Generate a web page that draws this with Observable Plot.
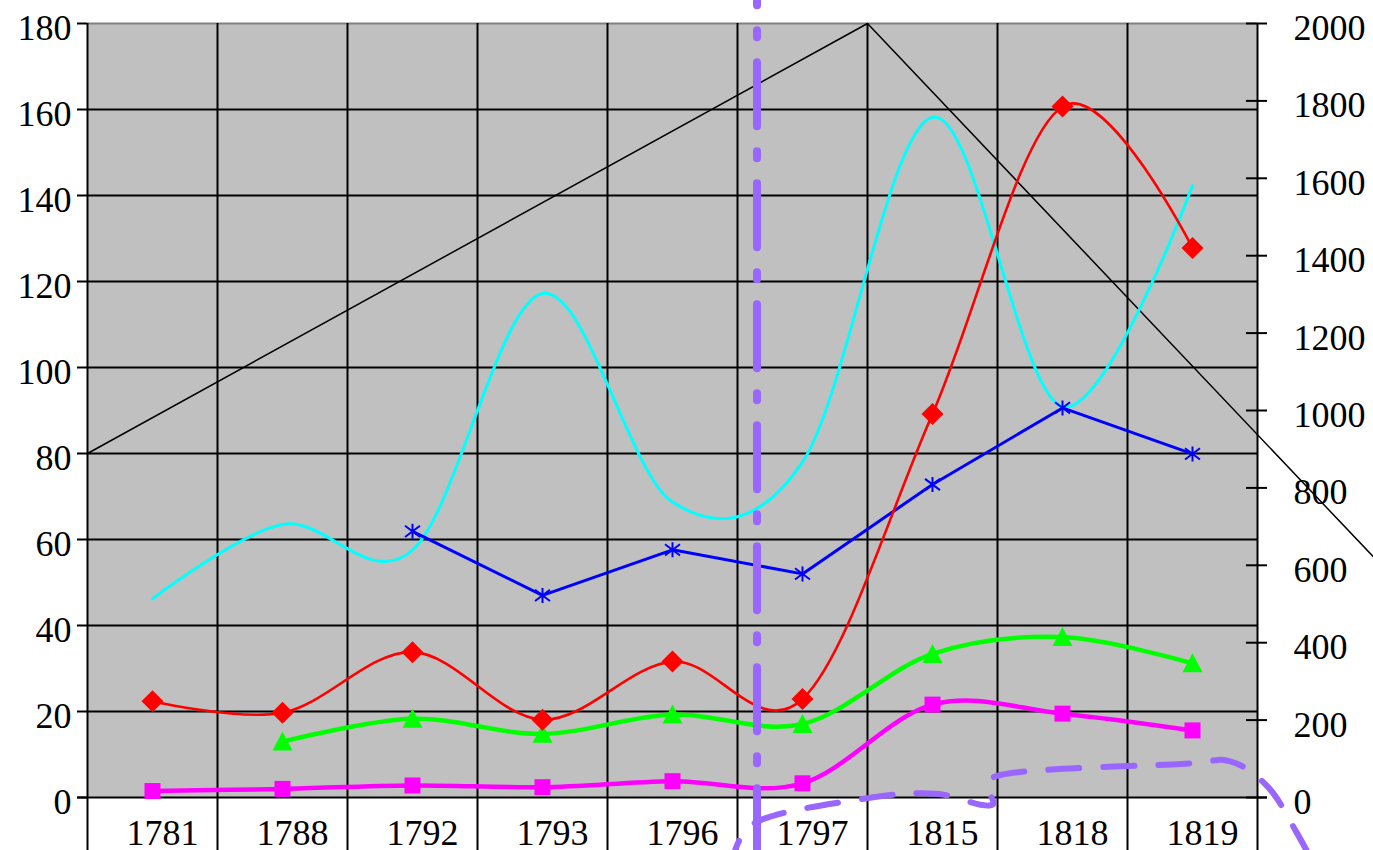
<!DOCTYPE html>
<html><head><meta charset="utf-8">
<script src="https://cdn.jsdelivr.net/npm/d3@7"></script>
<script src="https://cdn.jsdelivr.net/npm/@observablehq/plot@0.6"></script>
<style>html,body{margin:0;padding:0;background:#fff;overflow:hidden}</style>
</head><body><div id="chart"></div>
<script>
// ---- data ----
const years = ["1781","1788","1792","1793","1796","1797","1815","1818","1819"];
const redSeries     = [22.4, 19.7, 33.8, 18.1, 31.6, 22.9, 89.2, 160.7, 127.8];
const blueSeries    = [null, null, 61.9, 47.0, 57.6, 52.0, 72.8, 90.6, 79.9];
const greenSeries   = [null, 13.0, 18.3, 14.8, 19.3, 17.1, 33.4, 37.3, 31.2];
const magentaSeries = [1.5, 2.0, 2.8, 2.4, 3.8, 3.3, 21.6, 19.5, 15.6];
const cyanSeries    = [46.2, 63.5, 57.5, 117.2, 68.7, 78.0, 158.2, 90.9, 142.3];
// black straight line (category-index units, left-axis values)
const blackX = [-0.5, 5.5, 9.5];
const blackY = [80, 180, 52.5];
// purple dash-dot vertical line
const purpleVX = [4.65, 4.65];
const purpleVY = [199.1, -13];
// purple dashed smoothed line
const purpleX = [4.45, 4.64, 5.49, 6.02, 6.45, 6.53, 7.91, 8.29, 8.585, 8.806, 9.0];
const purpleY = [-17, -5.8, -0.2, 0.9, -1.8, 5.3, 7.8, 8.4, 2.3, -8.4, -19.3];
// axis ticks
const leftTicks = [0, 20, 40, 60, 80, 100, 120, 140, 160, 180];
const rightTicks = [0, 200, 400, 600, 800, 1000, 1200, 1400, 1600, 1800, 2000];
const rightMax = 2000, leftMax = 180;

// ---- helpers ----
const FONT = "'Liberation Serif', 'Times New Roman', Times, serif";
const toPts = vals => vals.map((v, i) => ({x: i, y: v}));
const pairs = (xs, ys) => xs.map((x, i) => ({x, y: ys[i]}));
const defined = vals => toPts(vals).filter(d => d.y != null);
const pxU = 9 / 1170; // x units per pixel
const bottomY = -12.4; // value at bottom edge of the svg

const diamondSym = {draw(c, s){ const r = Math.sqrt(s/Math.PI); c.moveTo(0,-r); c.lineTo(r,0); c.lineTo(0,r); c.lineTo(-r,0); c.closePath(); }};
const squareSym  = {draw(c, s){ const r = Math.sqrt(s/Math.PI); c.rect(-r,-r,2*r,2*r); }};
const triSym     = {draw(c, s){ const r = Math.sqrt(s/Math.PI); c.moveTo(0,-r); c.lineTo(r,r*0.9); c.lineTo(-r,r*0.9); c.closePath(); }};
const astSym     = {draw(c, s){ const r = Math.sqrt(s/Math.PI); c.moveTo(0,-r); c.lineTo(0,r); c.moveTo(-r,-r*0.75); c.lineTo(r,r*0.75); c.moveTo(-r,r*0.75); c.lineTo(r,-r*0.75); }};

const chart = Plot.plot({
  width: 1373, height: 850,
  marginTop: 23, marginBottom: 53, marginLeft: 87, marginRight: 116,
  x: {type: "linear", domain: [-0.5, 8.5], axis: null},
  y: {type: "linear", domain: [0, leftMax], axis: null},
  style: {background: "white", fontFamily: FONT, overflow: "visible"},
  marks: [
    Plot.frame({fill: "#c0c0c0"}),
    // horizontal gridlines
    Plot.ruleY(leftTicks.filter(v => v > 0 && v < leftMax), {x1: -0.5, x2: 8.5, stroke: "black", strokeWidth: 2}),
    Plot.ruleY([leftMax], {x1: -0.5, x2: 8.5, stroke: "#808080", strokeWidth: 2}),
    // vertical gridlines (category boundaries)
    Plot.ruleX(d3.range(-0.5, 9, 1), {y1: bottomY, y2: leftMax, stroke: "black", strokeWidth: 2}),
    // base line
    Plot.ruleY([0], {x1: -0.5 - 10*pxU, x2: 8.5 + 10*pxU, stroke: "black", strokeWidth: 2}),
    // left ticks
    Plot.ruleY(leftTicks, {x1: -0.5 - 10*pxU, x2: -0.5, stroke: "black", strokeWidth: 2}),
    // right ticks
    Plot.ruleY(rightTicks, {y: d => d * leftMax / rightMax, x1: 8.5 - 11*pxU, x2: 8.5 + 10*pxU, stroke: "black", strokeWidth: 2}),
    // tick labels
    Plot.text(leftTicks, {x: -0.5, y: d => d, text: d => String(d), textAnchor: "end", dx: -16, dy: 5, fontSize: 36, fontFamily: FONT, fill: "black"}),
    Plot.text(rightTicks, {x: 8.5, y: d => d * leftMax / rightMax, text: d => String(d), textAnchor: "start", dx: 36, dy: 5, fontSize: 36, fontFamily: FONT, fill: "black"}),
    Plot.text(years, {x: (d, i) => i, y: 0, text: d => d, textAnchor: "middle", dx: 10, dy: 35.5, fontSize: 36, fontFamily: FONT, fill: "black"}),
    // black line
    Plot.line(pairs(blackX, blackY), {x: "x", y: "y", stroke: "black", strokeWidth: 1.5}),
    // series
    Plot.line(toPts(cyanSeries), {x: "x", y: "y", curve: "cardinal", stroke: "#00FFFF", strokeWidth: 3}),
    Plot.line(toPts(blueSeries), {x: "x", y: "y", stroke: "#0000FF", strokeWidth: 3}),
    Plot.dot(defined(blueSeries), {x: "x", y: "y", symbol: astSym, r: 7.5, stroke: "#0000FF", strokeWidth: 2, fill: "none"}),
    Plot.line(toPts(greenSeries), {x: "x", y: "y", curve: "cardinal", stroke: "#00FF00", strokeWidth: 4.5}),
    Plot.dot(defined(greenSeries), {x: "x", y: "y", symbol: triSym, r: 10, fill: "#00FF00", stroke: "none"}),
    Plot.line(toPts(magentaSeries), {x: "x", y: "y", curve: "cardinal", stroke: "#FF00FF", strokeWidth: 4.5}),
    Plot.dot(defined(magentaSeries), {x: "x", y: "y", symbol: squareSym, r: 8, fill: "#FF00FF", stroke: "none"}),
    Plot.line(toPts(redSeries), {x: "x", y: "y", curve: "cardinal", stroke: "#FF0000", strokeWidth: 2.6}),
    Plot.dot(defined(redSeries), {x: "x", y: "y", symbol: diamondSym, r: 11, fill: "#FF0000", stroke: "none"}),
    // purple lines
    Plot.line(pairs(purpleVX, purpleVY), {x: "x", y: "y", stroke: "#9966FF", strokeWidth: 8, strokeDasharray: "64,25,7,25"}),
    Plot.line(pairs(purpleX, purpleY), {x: "x", y: "y", curve: "cardinal", stroke: "#9966FF", strokeWidth: 6, strokeDasharray: "31,24"})
  ]
});
document.getElementById("chart").appendChild(chart);
</script>
</body></html>
